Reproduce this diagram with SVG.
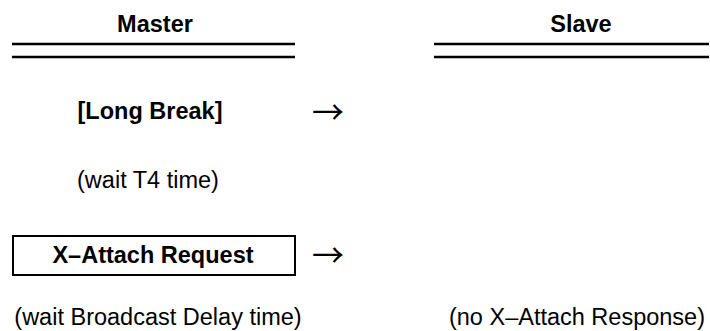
<svg xmlns="http://www.w3.org/2000/svg" width="710" height="331" viewBox="0 0 710 331">
<style>
text{font-family:"Liberation Sans",Arial,sans-serif;font-size:23.5px;fill:#000}
.b{font-weight:bold}
.m{text-anchor:middle}
.rule{stroke:#000;stroke-width:2.5;fill:none}
.box{stroke:#000;stroke-width:2;fill:#fff}
.arr{font-family:"Noto Sans CJK SC",sans-serif;font-size:32px}
</style>
<g id="master-lane">
<text class="b m" x="155" y="32">Master</text>
<line class="rule" x1="12" y1="44" x2="295" y2="44"/>
<line class="rule" x1="12" y1="57" x2="295" y2="57"/>
</g>
<g id="slave-lane">
<text class="b m" x="581" y="32">Slave</text>
<line class="rule" x1="434" y1="44" x2="709" y2="44"/>
<line class="rule" x1="434" y1="57" x2="709" y2="57"/>
</g>
<g id="long-break">
<text class="b m" x="150" y="119">[Long Break]</text>
</g>
<g id="wait-t4">
<text class="m" x="148" y="188">(wait T4 time)</text>
</g>
<g id="x-attach-request">
<rect class="box" x="13" y="236" width="282" height="39"/>
<text class="b m" x="153" y="263">X–Attach Request</text>
</g>
<g id="wait-broadcast">
<text class="m" x="158" y="325">(wait Broadcast Delay time)</text>
</g>
<g id="no-response">
<text class="m" x="577" y="325">(no X–Attach Response)</text>
</g>
<g id="connectors">
<text class="arr" x="312" y="124">→</text>
<text class="arr" x="312" y="267">→</text>
</g>
</svg>
